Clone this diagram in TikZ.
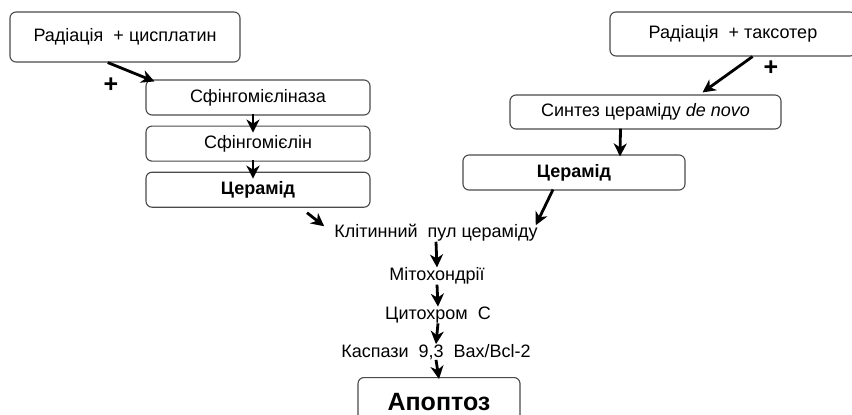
\documentclass[tikz,border=0pt]{standalone}
\usepackage{fontspec}
\setmainfont{Liberation Sans}
\usetikzlibrary{positioning}
\usetikzlibrary{arrows.meta}
\definecolor{boxgray}{HTML}{4A4A4A}
\tikzset {
  x=1pt, y=-1pt,
  % rounded boxes of the scheme
  stage/.style = {draw=boxgray, line width=1.1pt, rounded corners=6pt, fill=white,
    inner sep=0pt, font=\fontsize{18}{21}\selectfont},
  % steps written without a box
  plain/.style = {inner sep=1pt, font=\fontsize{18}{21}\selectfont},
  % thick black arrows
  flow/.style = {line width=2.8pt, -{Stealth[length=13pt,width=13pt,inset=4pt]}},
  % plus signs beside the arrows
  plus/.style = {inner sep=0pt, font=\fontsize{25}{25}\selectfont\bfseries},
}

\begin{document}
\begin{tikzpicture}
        \useasboundingbox (0,0) rectangle (852,415);
        \clip (0,0) rectangle (852,415);

        % left branch
        \node[stage, minimum width=230pt, minimum height=50pt] (cis) at (125,37) {Радіація\ \ + цисплатин};
        \node[stage, minimum width=224pt, minimum height=35pt] (smase) at (258,97.5) {Сфінгомієліназа};
        \node[stage, minimum width=224pt, minimum height=35pt] (sm) [below=10pt of smase] {Сфінгомієлін};
        \node[stage, minimum width=224pt, minimum height=35pt] (cerl) [below=10pt of sm] {\bfseries Церамід};
        \node[plus] (plusl) at (111,85) {+};

        % right branch
        \node[stage, minimum width=246pt, minimum height=44pt] (tax) at (733,34) {Радіація\ \ + таксотер};
        \node[stage, minimum width=271pt, minimum height=34pt] (novo) at (645.5,112) {Синтез цераміду \textit{de novo}};
        \node[stage, minimum width=222pt, minimum height=35pt] (cerr) at (574,172.5) {\bfseries Церамід};
        \node[plus] (plusr) at (771,68) {+};

        % common pathway
        \node[plain] (pool) at (436,233) {Клітинний\ \ пул цераміду};
        \node[plain] (mito) at (437,276) {Мітохондрії};
        \node[plain] (cyto) at (438,315) {Цитохром\ \ С};
        \node[plain] (casp) at (436,352) {Каспази\ \ 9,3\ \ Bax/Bcl-2};
        \node[stage, minimum width=162pt, minimum height=48pt, anchor=north,
          font=\fontsize{25}{28}\selectfont\bfseries] (apo) at (439,377) {Апоптоз};

        \draw[flow] (cis.236) -- ([xshift=9pt,yshift=-2pt]smase.north west);
        \draw[flow] ([xshift=-5pt,yshift=2pt]smase.south) -- ([xshift=-5pt,yshift=-7pt]sm.north);
        \draw[flow] ([xshift=-5pt,yshift=2pt]sm.south) -- ([xshift=-5pt,yshift=-7pt]cerl.north);
        \draw[flow] ([xshift=49pt,yshift=-5pt]cerl.south) -- ([xshift=-9pt,yshift=-3pt]pool.north west);

        \draw[flow] (tax.311) -- ([xshift=57pt,yshift=2pt]novo.north);
        \draw[flow] ([xshift=-25pt,yshift=1pt]novo.south) -- ([xshift=46pt,yshift=-2pt]cerr.north);
        \draw[flow] ([xshift=-21pt,yshift=1pt]cerr.south) -- ([xshift=-3pt,yshift=-2pt]pool.north east);

        \draw[flow] ([yshift=1pt]pool.south) -- ([yshift=-1pt]mito.north);
        \draw[flow] ([yshift=1pt]mito.south) -- ([yshift=-1pt]cyto.north);
        \draw[flow] ([yshift=1pt]cyto.south) -- ([yshift=-1pt]casp.north);
        \draw[flow] ([yshift=1pt]casp.south) -- ([yshift=-2pt]apo.north);
      \end{tikzpicture}
\end{document}
